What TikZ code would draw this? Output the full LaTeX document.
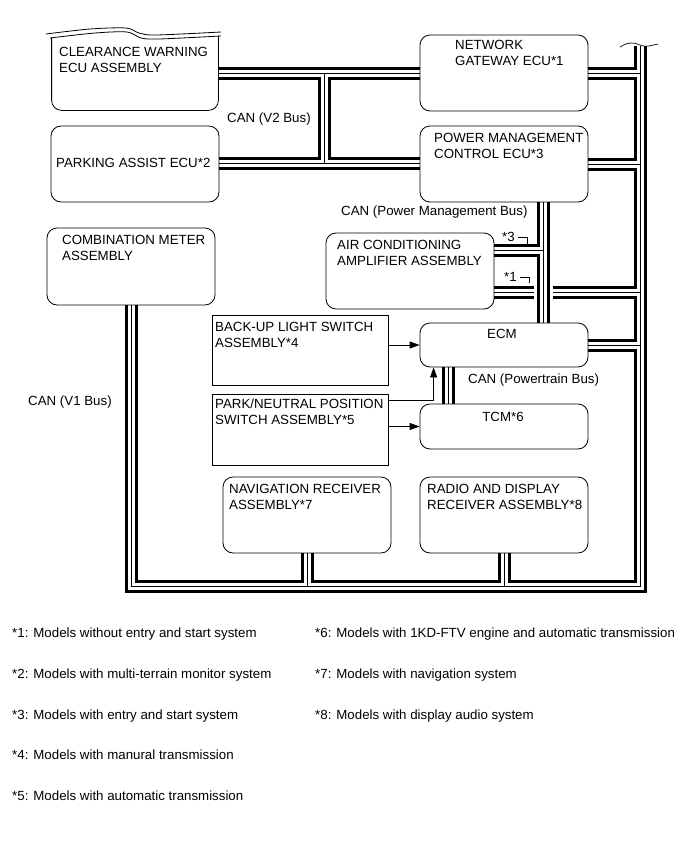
\documentclass[tikz,border=0pt]{standalone}
\usepackage{fontspec}
\setmainfont{Liberation Sans}
\usetikzlibrary{arrows.meta,backgrounds}

\tikzset{
  ecu/.style={draw, line width=0.8pt, rounded corners=10pt, minimum width=168pt, minimum height=76pt, inner sep=0pt},
  swbox/.style={draw, line width=0.8pt, minimum width=176pt, minimum height=70pt, inner sep=0pt},
  lbl/.style={anchor=base west, align=left, inner sep=0pt, font=\fontsize{13.3}{16}\selectfont},
  arr/.style={line width=0.8pt, -{Triangle[length=10pt,width=7pt]}},
}

% bus centre lines (drawn three times: outer, gap, centre wire)
\newcommand{\vbuses}{%
  (meter.south) -- (meter.south |- rb) -- (rb) -- (rt)
  (gw.east) -- (gw.east -| rb)
  (pm.east) -- (pm.east -| rb)
  (ac.east |- r3) -- (r3)
  (ecm.east) -- (ecm.east -| rb)
  (nav.south) -- (nav.south |- rb)
  (radio.south) -- (radio.south |- rb)
  (cw.east |- v2a) -- (gw.west |- v2a)
  (pa.east |- v2b) -- (pm.west |- v2b)
  (v2a) -- (v2b)
  (ecm.south -| ptx) -- (tcm.north -| ptx)
}
\newcommand{\pmbus}{%
  (pm.south -| p3) -- (ecm.north -| p3)
  (ac.east |- p3) -- (p3)
}

\begin{document}
\begin{tikzpicture}[x=1pt, y=-1pt]
  \useasboundingbox (0,0) rectangle (690,854);

  % boxes
  \node[ecu, draw=none, minimum width=166pt, minimum height=72pt] (cw) at (135,74) {};
  \node[ecu] (gw) at (504,73) {};
  \node[ecu] (pm) at (504,164) {};
  \node[ecu] (pa) at (135,164) {};
  \node[ecu, minimum height=77pt] (meter) at (131,266.5) {};
  \node[ecu] (ac) at (410,271) {};
  \node[swbox] (bu) at (300,350) {};
  \node[swbox, minimum height=71pt] (pn) at (300,429.5) {};
  \node[ecu, minimum height=44pt] (ecm) at (504,345) {};
  \node[ecu, minimum height=45pt] (tcm) at (504,426.5) {};
  \node[ecu] (nav) at (307,515) {};
  \node[ecu] (radio) at (504,515) {};

  % clearance warning box, cut at the top
  \draw[line width=0.8pt, rounded corners=10pt] (cw.north west) -- (cw.south west)
    -- (cw.south east) -- ([yshift=2pt]cw.north east);
  \draw[line width=0.8pt] plot[smooth] coordinates {(46,34) (90,29) (126,28) (139,33) (156,35) (221,32)};
  \draw[line width=0.8pt] plot[smooth] coordinates {(50,38) (95,33) (127,32) (141,38) (159,39) (221,36)};

  \coordinate (v2a) at (324,73);
  \coordinate (v2b) at (324,163);
  \coordinate (rt) at (640,46);
  \coordinate (rb) at (640,586);
  \coordinate (r3) at (640,292);
  \coordinate (p3) at (543,250);
  \coordinate (xing) at (543,292);
  \coordinate (ptx) at (448,386);

  \begin{pgfonlayer}{background}
    \foreach \w/\c in {13/black,7/white,0.7/black}
      \draw[line width=\w pt, \c] \vbuses;
    \draw[white, line width=19pt] ([yshift=12pt]xing) -- ([yshift=-12pt]xing);
    \foreach \w/\c in {13/black,7/white,0.7/black}
      \draw[line width=\w pt, \c] \pmbus;
  \end{pgfonlayer}

  % break mark on the V1 bus
  \draw[line width=0.7pt] (620,47) .. controls (628,42) and (634,42) .. (640,45)
    .. controls (646,48) and (652,45) .. (658,44);

  % switch signals
  \draw[arr] (bu.east |- ecm.west) -- (ecm.west);
  \draw[arr] (pn.east |- tcm.west) -- (tcm.west);
  \draw[arr] ([yshift=-7pt]pn.north east) -| ([xshift=14pt]ecm.south west);

  % box texts (base = last line)
  \node[lbl] (cw-t) at (59,72) {CLEARANCE WARNING\\ECU ASSEMBLY};
  \node[lbl] (gw-t) at (455,65) {NETWORK\\GATEWAY ECU*1};
  \node[lbl] (pm-t) at (434,158) {POWER MANAGEMENT\\CONTROL ECU*3};
  \node[lbl] (pa-t) at (56,167) {PARKING ASSIST ECU*2};
  \node[lbl] (meter-t) at (62,260) {COMBINATION METER\\ASSEMBLY};
  \node[lbl] (ac-t) at (337,265) {AIR CONDITIONING\\AMPLIFIER ASSEMBLY};
  \node[lbl] (bu-t) at (215,347) {BACK-UP LIGHT SWITCH\\ASSEMBLY*4};
  \node[lbl] (pn-t) at (215,424) {PARK/NEUTRAL POSITION\\SWITCH ASSEMBLY*5};
  \node[lbl, anchor=base] (ecm-t) at (502,338) {ECM};
  \node[lbl, anchor=base] (tcm-t) at (503,421) {TCM*6};
  \node[lbl] (nav-t) at (229,509) {NAVIGATION RECEIVER\\ASSEMBLY*7};
  \node[lbl] (radio-t) at (427,509) {RADIO AND DISPLAY\\RECEIVER ASSEMBLY*8};

  % bus names
  \node[lbl] (v2-t) at (227,122) {CAN (V2 Bus)};
  \node[lbl] (pmb-t) at (341,215) {CAN (Power Management Bus)};
  \node[lbl] (ptb-t) at (468,383) {CAN (Powertrain Bus)};
  \node[lbl] (v1-t) at (28,405) {CAN (V1 Bus)};

  % branch conditions
  \node[lbl] (s3) at (502,241) {*3};
  \draw[line width=0.6pt] ([shift={(3,-4)}]s3.base east) -| ++(9,7);
  \node[lbl] (s1) at (504,281) {*1};
  \draw[line width=0.6pt] ([shift={(3,-4)}]s1.base east) -| ++(9,6);

  % notes
  \node[lbl] (n1) at (12,637) {*1: Models without entry and start system};
  \node[lbl] (n2) at (12,678) {*2: Models with multi-terrain monitor system};
  \node[lbl] (n3) at (12,719) {*3: Models with entry and start system};
  \node[lbl] (n4) at (12,759) {*4: Models with manural transmission};
  \node[lbl] (n5) at (12,800) {*5: Models with automatic transmission};
  \node[lbl] (n6) at (315,637) {*6: Models with 1KD-FTV engine and automatic transmission};
  \node[lbl] (n7) at (315,678) {*7: Models with navigation system};
  \node[lbl] (n8) at (315,719) {*8: Models with display audio system};
\end{tikzpicture}
\end{document}
